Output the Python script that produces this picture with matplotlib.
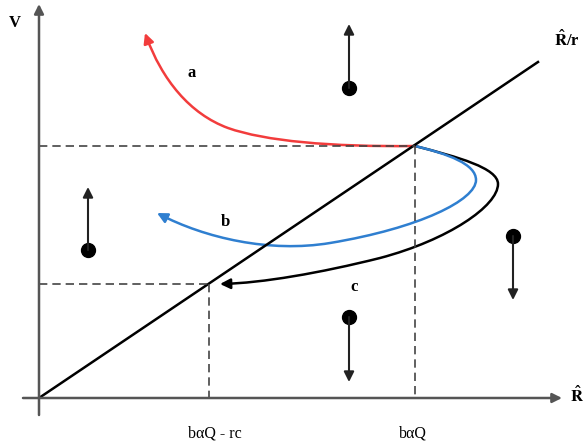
import matplotlib.pyplot as plt
from matplotlib.patches import FancyArrowPatch
from matplotlib.path import Path

plt.rcParams["mathtext.fontset"] = "stix"

# schematic in image-like units (x to the right, y downwards)
origin = (39, 398)
x_axis_end = 562
y_axis_end = 4
line_end = (538, 62)          # R^/r line
equilibrium = (415, 146)      # bαQ on the R^/r line
lower_point = (209, 284)      # bαQ - rc on the R^/r line

# trajectories as cubic bezier vertices
curve_a = [(415, 146), (330, 147), (265, 141), (228, 128),
           (190, 114), (162, 80), (145, 33)]
curve_b = [(415, 146), (448, 154), (476, 164), (476, 180),
           (476, 200), (420, 228), (330, 243),
           (270, 253), (205, 238), (157, 213)]
curve_c = [(415, 146), (458, 157), (498, 168), (498, 184),
           (498, 206), (448, 240), (380, 258),
           (320, 273), (262, 283), (220, 284)]

# direction arrows: (x, dot y, arrow tip y)
dir_arrows = [(349, 88, 24), (88, 250, 187), (513, 236, 300), (349, 317, 382)]

curve_labels = [("a", 192, 73), ("b", 225, 222), ("c", 354, 287)]
tick_labels = ["bαQ - rc", "bαQ"]

fig = plt.figure(figsize=(5.83, 4.47), dpi=100)
ax = fig.add_axes([0, 0, 1, 1])
ax.set_xlim(0, 583)
ax.set_ylim(447, 0)
ax.axis("off")

axis_col = "#555555"
ax.annotate("", xy=(x_axis_end, origin[1]), xytext=(23, origin[1]),
            arrowprops=dict(arrowstyle="-|>", color=axis_col, lw=1.8,
                            mutation_scale=14, shrinkA=0, shrinkB=0))
ax.annotate("", xy=(origin[0], y_axis_end), xytext=(origin[0], 415),
            arrowprops=dict(arrowstyle="-|>", color=axis_col, lw=1.8,
                            mutation_scale=14, shrinkA=0, shrinkB=0))

ax.plot([origin[0], line_end[0]], [origin[1], line_end[1]], color="black", lw=1.8)

# dashed guides
dash = dict(color="#444444", lw=1.2, ls=(0, (5, 3)))
ax.plot([origin[0], equilibrium[0]], [equilibrium[1], equilibrium[1]], **dash)
ax.plot([equilibrium[0], equilibrium[0]], [equilibrium[1], origin[1]], **dash)
ax.plot([origin[0], lower_point[0]], [lower_point[1], lower_point[1]], **dash)
ax.plot([lower_point[0], lower_point[0]], [lower_point[1], origin[1]], **dash)


def bezier(points, color):
    codes = [Path.MOVETO] + [Path.CURVE4] * (len(points) - 1)
    patch = FancyArrowPatch(path=Path(points, codes), arrowstyle="-|>",
                            mutation_scale=15, color=color, lw=1.8,
                            shrinkA=0, shrinkB=0)
    ax.add_patch(patch)


bezier(curve_c, "black")
bezier(curve_b, "#2f7fd0")
bezier(curve_a, "#f23c3c")

for x, y0, y1 in dir_arrows:
    ax.annotate("", xy=(x, y1), xytext=(x, y0),
                arrowprops=dict(arrowstyle="-|>", color="#222222", lw=1.5,
                                mutation_scale=15, shrinkA=0, shrinkB=0))
    ax.plot(x, y0, "o", color="black", ms=10)

serif = "Liberation Serif"
for txt, x, y in curve_labels:
    ax.text(x, y, txt, family=serif, fontsize=12, fontweight="bold",
            ha="center", va="center")
ax.text(15, 23, "V", family=serif, fontsize=12, fontweight="bold",
        ha="center", va="center")
ax.text(567, 40, r"$\mathbf{\hat{R}}$/r", family=serif, fontsize=12,
        fontweight="bold", ha="center", va="center")
ax.text(577, 396, r"$\mathbf{\hat{R}}$", fontsize=12,
        ha="center", va="center")
ax.text(lower_point[0] + 6, 433, tick_labels[0], family=serif, fontsize=11.5,
        ha="center", va="center")
ax.text(equilibrium[0] - 2, 433, tick_labels[1], family=serif, fontsize=11.5,
        ha="center", va="center")

fig.savefig("out.png", dpi=100)
